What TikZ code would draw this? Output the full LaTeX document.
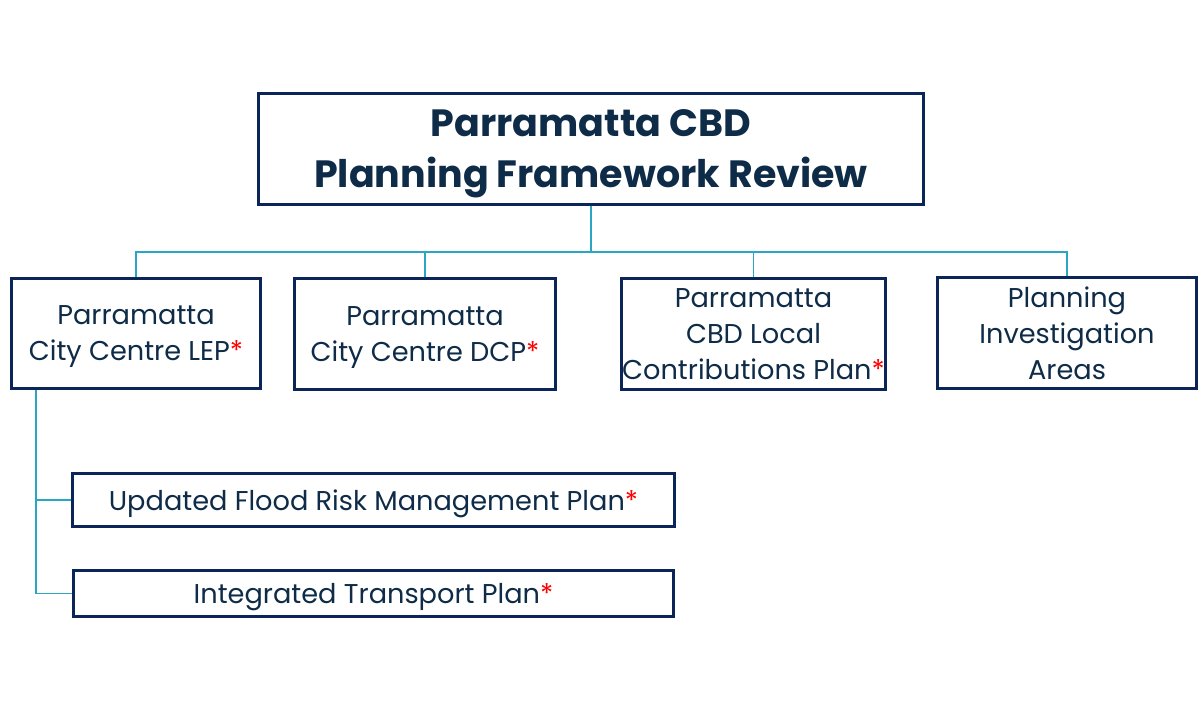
\documentclass[tikz,border=0pt]{standalone}
\usepackage{fontspec}
\setmainfont{Poppins}
\usepackage{xcolor}
\definecolor{navy}{HTML}{0B2559}
\definecolor{ink}{HTML}{0E2B47}
\definecolor{teal}{HTML}{2AA5C2}
\newcommand{\req}{\textcolor{red}{*}}

\begin{document}
\begin{tikzpicture}[x=0.5pt,y=-0.5pt,
		box/.style={draw=navy, line width=1.5pt, text=ink, align=center, inner sep=0pt, text depth=0pt, font=\fontsize{13.6}{18}\selectfont},
		link/.style={draw=teal, line width=0.75pt}]
		%\draw [help lines] (0,0) grid (1200,705);
		\useasboundingbox (0,0) rectangle (1200,705);
		\node [box, minimum width=332.5pt, minimum height=55.5pt, font=\fontsize{19}{25.5}\selectfont\bfseries] (top) at (591,149) {Parramatta CBD\\Planning Framework Review};
		
		\node [box, minimum width=124.5pt, minimum height=55pt] (lep) at (136,333.5) {Parramatta\\City Centre LEP\req};
		\node [box, minimum width=130.5pt, minimum height=55.5pt] (dcp) at (425,334) {Parramatta\\City Centre DCP\req};
		\node [box, minimum width=132pt, minimum height=55.5pt] (lcp) at (753.5,334) {Parramatta\\CBD Local\\Contributions Plan\req};
		\node [box, minimum width=129.5pt, minimum height=55.5pt] (pia) at (1067,333) {Planning\\Investigation\\Areas};
		
		\node [box, minimum width=301pt, minimum height=26.5pt] (flood) at (373.5,500) {Updated Flood Risk Management Plan\req};
		\node [box, minimum width=300pt, minimum height=23pt] (itp) at (373.5,593.5) {Integrated Transport Plan\req};
		
		\coordinate (bus) at (591,252);
		\coordinate (stem) at (36,0);
		\draw [link] (top.south) -- (top.south |- bus);
		\draw [link] (lep.north) -- (lep.north |- bus) -- (pia.north |- bus) -- (pia.north);
		\foreach \n in {dcp,lcp}
			\draw [link] (\n.north) -- (\n.north |- bus);
		\draw [link] (lep.south -| stem) |- (itp.west);
		\draw [link] (stem |- flood.west) -- (flood.west);
	\end{tikzpicture}
\end{document}
